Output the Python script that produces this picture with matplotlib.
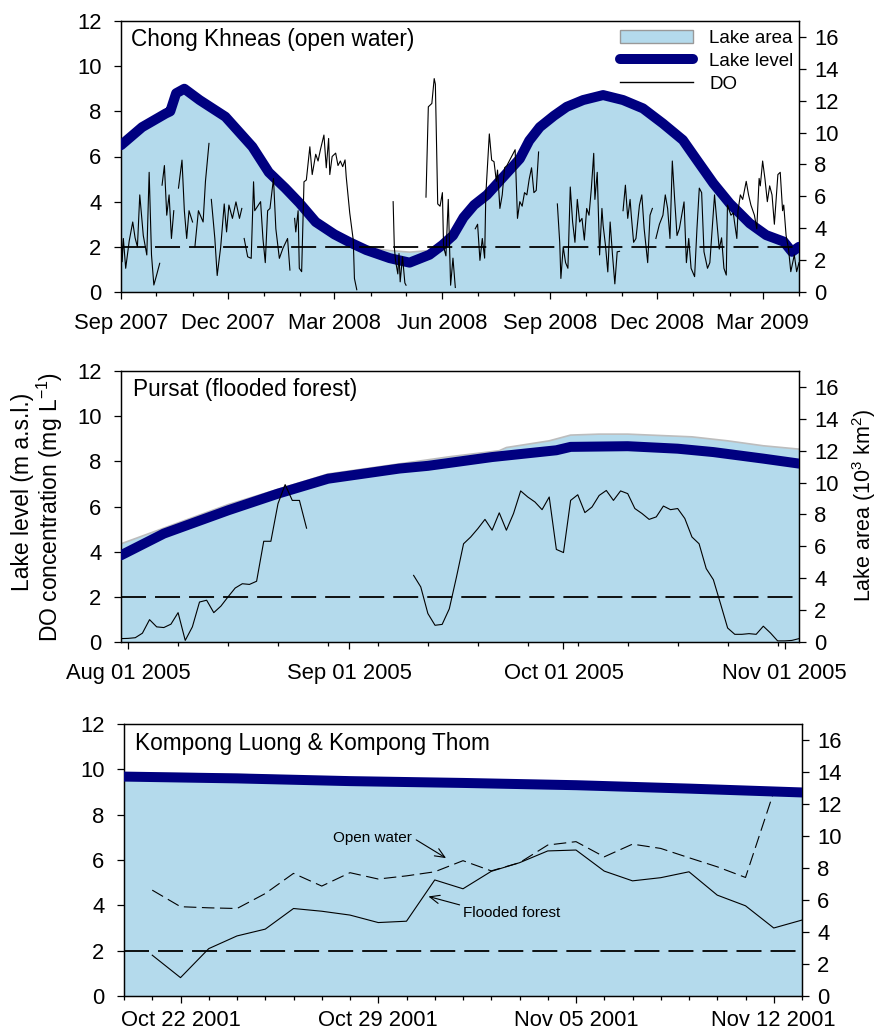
import numpy as np
import pandas as pd
import matplotlib
matplotlib.use('Agg')
import matplotlib.pyplot as plt
import matplotlib.dates as mdates
from matplotlib.patches import Patch
from matplotlib.lines import Line2D

plt.rcParams['font.family'] = ['Liberation Sans', 'DejaVu Sans']
plt.rcParams['mathtext.default'] = 'regular'
plt.rcParams['lines.scale_dashes'] = False

FILL = '#b4daec'
EDGE = '#bdbdbd'
NAVY = '#000080'

# ---------------- Panel 1: Chong Khneas (days since 2007-09-01) ----------------
ck_start = '2007-09-01'
ck_level_days = [0, 18, 38, 42, 47, 54, 67, 89, 112, 126, 140, 152, 166, 182, 195, 209, 229, 246,
                 263, 274, 283, 292, 301, 312, 326, 340, 348, 357, 369, 380, 394, 411, 428, 445,
                 462, 479, 491, 505, 519, 536, 550, 565, 572, 578]
ck_level = [6.5, 7.3, 7.9, 8.0, 8.8, 9.0, 8.5, 7.76, 6.43, 5.3, 4.6, 3.95, 3.1, 2.55, 2.2, 1.86, 1.5, 1.3,
            1.65, 2.08, 2.5, 3.3, 3.85, 4.3, 5.1, 5.9, 6.7, 7.3, 7.8, 8.2, 8.5, 8.72, 8.5, 8.13,
            7.46, 6.73, 5.84, 4.81, 3.92, 3.04, 2.52, 2.23, 1.78, 2.0]
ck_area_days = ck_level_days
ck_area = [9.1, 10.3, 11.1, 11.3, 12.4, 12.7, 12.0, 11.0, 9.1, 7.5, 6.5, 5.6, 4.4, 3.6, 3.1, 2.8, 2.6, 2.5,
           2.6, 2.95, 3.5, 4.6, 5.4, 6.1, 7.2, 8.3, 9.4, 10.3, 11.0, 11.6, 12.0, 12.3, 12.0, 11.5,
           10.5, 9.5, 8.2, 6.8, 5.5, 4.3, 3.6, 3.15, 2.5, 2.8]
nan = np.nan
ck_do_days = [0, 1, 2, 4, 7, 10, 12, 14, 16, 19, 22, 24, 26, 28, 30, 33, 34, 35, 37, 39, 41, 43, 45, 47,
              49, 52, 54, 56, 58, 61, 62, 63, 66, 70, 72, 75, 76, 77, 80, 82, 85, 88, 90, 92, 95, 98,
              101, 103, 104, 105, 108, 111, 113, 114, 119, 121, 123, 125, 127, 130, 132, 135, 138,
              142, 144, 145, 148, 149, 151, 152, 154, 156, 158, 161, 163, 166, 168, 170, 173, 175,
              177, 178, 180, 183, 185, 187, 189, 191, 192, 195, 198, 199, 201, 202,
              232, 233, 234, 236, 237, 238, 240, 242, 243, 244,
              260, 262, 265, 267, 268, 270, 272, 274, 275, 277, 279, 281, 283, 285, 286,
              302, 304, 306, 308, 310, 311, 314, 316, 318, 320, 321, 323, 325, 327, 329, 331, 333,
              336, 338, 340, 342, 344, 346, 348, 350, 352, 354, 356, 357,
              372, 374, 375, 377, 379, 381, 383, 385, 387, 389, 391, 393, 395, 397, 399, 401, 403,
              404, 406, 408, 410, 411, 413, 415, 417, 419, 421, 423, 425, 426,
              428, 430, 432, 434, 435, 437, 439, 442, 444, 446, 449, 451, 453, 454,
              456, 459, 462, 464, 466, 468, 470, 472, 474, 476, 477, 480, 482, 484, 486, 489, 491,
              493, 495, 497, 500, 502, 504, 506, 508, 510, 512, 514, 516, 517, 520, 522, 523, 525,
              526, 528, 530, 533, 535, 537, 540, 542, 544, 545, 547, 549, 551, 553, 555, 557, 560,
              562, 564, 565, 567, 569, 571, 574, 576, 578]
ck_do = [3.1, 1.34, 2.37, 1.05, 2.26, 3.1, 2.4, 2.0, 4.3, 2.5, 1.64, 5.3, 1.64, 0.31, 0.68, 1.27, nan, 4.73,
         5.6, 3.4, 4.3, 2.37, 3.6, nan,
         4.6, 5.84, 3.6, 2.37, 3.6, 3.1, nan, 2.0, 3.6, 3.1, 4.9, 6.58, nan, 4.1, 2.37, 0.73, 2.0, 3.9,
         2.66, 3.85, 3.26, 3.99,
         3.26, 3.7, nan, 2.37, 1.56, 1.49, 4.88, 3.6, 4.0, 2.37, 1.3, 3.6, 3.7, 5.03, 2.8, 1.49, 1.93,
         2.37, 0.97, nan, 3.26, 2.66, 3.6, 1.05, 0.9, 4.88, 4.96, 6.43, 5.2, 6.1, 5.8, 6.3, 6.95, 5.5,
         6.8, 5.2, 6.0, 6.15, 5.6, 5.8, 5.55, 5.85, 5.1, 3.5, 2.3, 0.6, 0.1, nan,
         4.0, 2.0, 1.4, 0.8, 1.7, 0.45, 1.56, 0.4, 0.3, nan,
         4.2, 8.2, 8.35, 9.45, 9.2, 3.9, 3.8, 4.4, 2.0, 1.6, 4.1, 0.3, 1.5, 0.2, nan,
         2.8, 3.0, 1.4, 2.37, 1.5, 4.3, 7.0, 5.84, 5.77, 4.9, 5.4, 3.7, 4.3, 5.5, 5.6, 5.8, 6.0,
         6.3, 3.26, 4.0, 3.8, 4.4, 4.3, 5.0, 5.5, 4.4, 4.5, 6.2, nan,
         3.9, 2.2, 0.6, 2.0, 1.3, 1.05, 4.65, 3.1, 2.2, 4.1, 3.1, 3.26, 2.3, 3.7, 3.4, 4.6, 6.14,
         4.1, 5.3, 1.64, 3.7, 2.96, 2.07, 0.89, 3.1, 1.64, 0.36, 1.78, 1.8, nan,
         3.6, 4.73, 3.26, 4.1, 3.4, 2.2, 2.37, 3.85, 4.3, 2.8, 1.3, 3.4, 3.7, nan,
         2.37, 3.0, 3.4, 4.3, 3.7, 2.37, 5.8, 4.1, 2.5, 2.8, 3.1, 3.99, 1.3, 2.37, 1.05, 0.68, 2.8,
         4.6, 4.4, 1.78, 1.05, 1.3, 2.8, 4.3, 3.1, 1.9, 2.4, 1.05, 0.75, 3.85, 3.4, 3.5, 3.1, 2.37,
         3.6, 4.3, 4.1, 4.9, 4.3, 3.85, 3.4, 2.8, 5.03, 4.7, 5.8, 5.0, 4.0, 4.7, 4.3, 3.0, 5.2,
         5.3, 3.6, 3.85, 2.5, 1.93, 0.9, 1.64, 0.9, 1.3]

# ---------------- Panel 2: Pursat ----------------
pu_level_dates = ['2005-07-31', '2005-08-06', '2005-08-15', '2005-08-22', '2005-08-29', '2005-09-08',
                  '2005-09-12', '2005-09-21', '2005-09-30', '2005-10-02', '2005-10-10', '2005-10-17',
                  '2005-10-22', '2005-10-29', '2005-11-03']
pu_level = [3.84, 4.8, 5.83, 6.57, 7.23, 7.68, 7.8, 8.19, 8.49, 8.64, 8.67, 8.56, 8.41, 8.12, 7.9]
pu_area_dates = ['2005-07-31', '2005-08-15', '2005-08-29', '2005-09-15', '2005-09-22', '2005-09-23',
                 '2005-09-29', '2005-10-02', '2005-10-06', '2005-10-10', '2005-10-19', '2005-10-24',
                 '2005-10-29', '2005-11-03']
pu_area = [6.16, 8.62, 10.54, 11.62, 12.0, 12.2, 12.62, 12.98, 13.04, 13.04, 12.87, 12.62, 12.31, 12.1]
pu_do_start = '2005-07-31'   # daily values
pu_do = [0.15, 0.16, 0.19, 0.39, 0.99, 0.67, 0.64, 0.79, 1.3, 0.07, 0.67, 1.77, 1.85, 1.3, 1.59,
         2.0, 2.39, 2.58, 2.55, 2.69, 4.46, 4.46, 6.13, 6.97, 6.27, 6.27, 5.04,
         nan, nan, nan, nan, nan, nan, nan, nan, nan, nan, nan, nan, nan, nan,
         2.95, 2.44, 1.26, 0.74, 0.78, 1.47, 2.87, 4.35, 4.65, 5.02, 5.43, 4.95, 5.72, 4.95, 5.69,
         6.69, 6.42, 6.2, 5.86, 6.42, 4.1, 3.96, 6.27, 6.52, 5.73, 5.98, 6.49, 6.71, 6.27, 6.69,
         6.57, 5.91, 5.69, 5.43, 5.54, 6.02, 5.86, 5.91, 5.47, 4.65, 4.35, 3.25, 2.76, 1.7, 0.62,
         0.34, 0.34, 0.37, 0.34, 0.7, 0.4, 0.05, 0.05, 0.07, 0.15]

# ---------------- Panel 3: Kompong Luong & Kompong Thom ----------------
kl_level_dates = ['2001-10-20', '2001-10-24', '2001-10-28', '2001-11-01', '2001-11-05', '2001-11-09',
                  '2001-11-13']
kl_level = [9.68, 9.6, 9.48, 9.4, 9.3, 9.15, 8.98]
kl_area = [13.95, 13.85, 13.6, 13.45, 13.25, 13.0, 12.7]
kl_forest_start = '2001-10-21'
kl_forest = [1.8, 0.81, 2.09, 2.65, 2.95, 3.86, 3.74, 3.57, 3.24, 3.3, 5.12, 4.73, 5.5, 5.88, 6.4,
             6.44, 5.51, 5.08, 5.22, 5.48, 4.45, 3.98, 3.0, 3.35]
kl_open_start = '2001-10-21'
kl_open = [4.67, 3.94, 3.89, 3.86, 4.52, 5.41, 4.85, 5.44, 5.16, 5.3, 5.48, 5.97, 5.52, 5.88, 6.66,
           6.81, 6.14, 6.7, 6.51, 6.1, 5.7, 5.23, 9.0]

W, H = 879, 1035
fig = plt.figure(figsize=(W / 100, H / 100), dpi=100)

TICK_FS = 15.8


def make_axes(left, top, right, bottom, xpad=10):
    ax = fig.add_axes([left / W, 1 - bottom / H, (right - left) / W, (bottom - top) / H])
    tw = ax.twinx()
    ax.set_zorder(tw.get_zorder() + 1)
    ax.patch.set_visible(False)
    ax.set_ylim(0, 12)
    ax.set_yticks(range(0, 13, 2))
    tw.set_ylim(0, 17)
    tw.set_yticks(range(0, 17, 2))
    for a in (ax, tw):
        a.tick_params(axis='both', which='major', direction='out', length=5, width=0.9,
                      labelsize=TICK_FS)
        a.tick_params(axis='x', which='minor', direction='out', length=3, width=0.9)
        for s in a.spines.values():
            s.set_linewidth(0.9)
    ax.tick_params(axis='y', pad=9)
    tw.tick_params(axis='y', pad=6)
    ax.tick_params(axis='x', pad=xpad)
    return ax, tw


def draw_area(tw, dates, area):
    tw.fill_between(dates, 0, area, facecolor=FILL, edgecolor='none', zorder=1)
    tw.plot(dates, area, color=EDGE, lw=1.2, zorder=2)


def thresh(ax, xlim):
    ax.plot(xlim, [2, 2], color='black', lw=1.3, dashes=(18, 6.5), zorder=6)


# ---- panel 1
ax1, tw1 = make_axes(121, 21, 799, 292)
base = pd.Timestamp(ck_start)
lvl_d = base + pd.to_timedelta(ck_level_days, unit='D')
area_d = base + pd.to_timedelta(ck_area_days, unit='D')
do_d = base + pd.to_timedelta(ck_do_days, unit='D')
x1 = (pd.Timestamp('2007-09-01'), pd.Timestamp('2009-04-01'))
draw_area(tw1, area_d, ck_area)
ax1.plot(lvl_d, ck_level, color=NAVY, lw=7.2, solid_capstyle='round', solid_joinstyle='round', zorder=4)
ax1.plot(do_d, ck_do, color='black', lw=0.8, zorder=5)
thresh(ax1, x1)
ax1.set_xlim(*x1)
ax1.xaxis.set_major_locator(mdates.MonthLocator(bymonth=[3, 6, 9, 12]))
ax1.xaxis.set_minor_locator(mdates.MonthLocator())
ax1.xaxis.set_major_formatter(mdates.DateFormatter('%b %Y'))
ax1.text(0.015, 0.93, 'Chong Khneas (open water)', transform=ax1.transAxes, fontsize=16.3,
         ha='left', va='center')
handles = [Patch(facecolor=FILL, edgecolor='#999999', lw=1.0),
           Line2D([0], [0], color=NAVY, lw=7.2, solid_capstyle='round'),
           Line2D([0], [0], color='black', lw=1.0)]
ax1.legend(handles, ['Lake area', 'Lake level', 'DO'], loc='upper left',
           bbox_to_anchor=((607 - 121) / 678, (292 - 17) / 271), frameon=False, fontsize=13.5,
           handlelength=3.9, handletextpad=0.85, labelspacing=0.3, borderpad=0.2)

# ---- panel 2
ax2, tw2 = make_axes(121, 371, 799, 642)
x2 = (pd.Timestamp('2005-07-31'), pd.Timestamp('2005-11-03'))
draw_area(tw2, pd.to_datetime(pu_area_dates), pu_area)
ax2.plot(pd.to_datetime(pu_level_dates), pu_level, color=NAVY, lw=7.2, solid_capstyle='round', zorder=4)
pu_dates = pd.date_range(pu_do_start, periods=len(pu_do), freq='D')
ax2.plot(pu_dates, pu_do, color='black', lw=0.8, zorder=5)
thresh(ax2, x2)
ax2.set_xlim(*x2)
ax2.xaxis.set_major_locator(mdates.MonthLocator(bymonthday=1))
ax2.xaxis.set_minor_locator(mdates.WeekdayLocator(byweekday=mdates.MO))
ax2.xaxis.set_major_formatter(mdates.DateFormatter('%b %d %Y'))
ax2.text(0.018, 0.93, 'Pursat (flooded forest)', transform=ax2.transAxes, fontsize=16.3,
         ha='left', va='center')

# ---- panel 3
ax3, tw3 = make_axes(124, 724, 802, 996, xpad=5)
x3 = (pd.Timestamp('2001-10-20'), pd.Timestamp('2001-11-13'))
kl_d = pd.to_datetime(kl_level_dates)
draw_area(tw3, kl_d, kl_area)
ax3.plot(kl_d, kl_level, color=NAVY, lw=7.2, solid_capstyle='round', zorder=4)
ax3.plot(pd.date_range(kl_forest_start, periods=len(kl_forest), freq='D'), kl_forest,
         color='black', lw=0.8, zorder=5)
ax3.plot(pd.date_range(kl_open_start, periods=len(kl_open), freq='D'), kl_open,
         color='black', lw=0.8, dashes=(9, 4), zorder=3)
thresh(ax3, x3)
ax3.set_xlim(*x3)
ax3.xaxis.set_major_locator(mdates.WeekdayLocator(byweekday=mdates.MO))
ax3.xaxis.set_minor_locator(mdates.DayLocator())
ax3.xaxis.set_major_formatter(mdates.DateFormatter('%b %d %Y'))
ax3.text(0.016, 0.93, 'Kompong Luong & Kompong Thom', transform=ax3.transAxes, fontsize=16.3,
         ha='left', va='center')
ax3.text(0.366, 0.581, 'Open water', transform=ax3.transAxes, fontsize=11, ha='center', va='center')
ax3.annotate('', xy=(0.475, 0.507), xytext=(0.431, 0.574), xycoords='axes fraction',
             textcoords='axes fraction',
             arrowprops=dict(arrowstyle='->,head_length=0.7,head_width=0.3', lw=0.8, color='black',
                             shrinkA=0, shrinkB=0))
ax3.text(0.5, 0.305, 'Flooded forest', transform=ax3.transAxes, fontsize=11, ha='left', va='center')
ax3.annotate('', xy=(0.449, 0.366), xytext=(0.495, 0.335), xycoords='axes fraction',
             textcoords='axes fraction',
             arrowprops=dict(arrowstyle='->,head_length=0.7,head_width=0.3', lw=0.8, color='black',
                             shrinkA=0, shrinkB=0))

# ---- axis labels
fig.text(23 / W, 1 - 492 / H, 'Lake level (m a.s.l.)', rotation=90, ha='center', va='center',
         fontsize=16.5)
fig.text(50 / W, 1 - 507 / H, 'DO concentration (mg L$^{-1}$)', rotation=90, ha='center',
         va='center', fontsize=16.5)
fig.text(864 / W, 1 - 505 / H, 'Lake area (10$^3$ km$^2$)', rotation=90, ha='center', va='center',
         fontsize=15.5)

fig.savefig('out.png', dpi=100)
